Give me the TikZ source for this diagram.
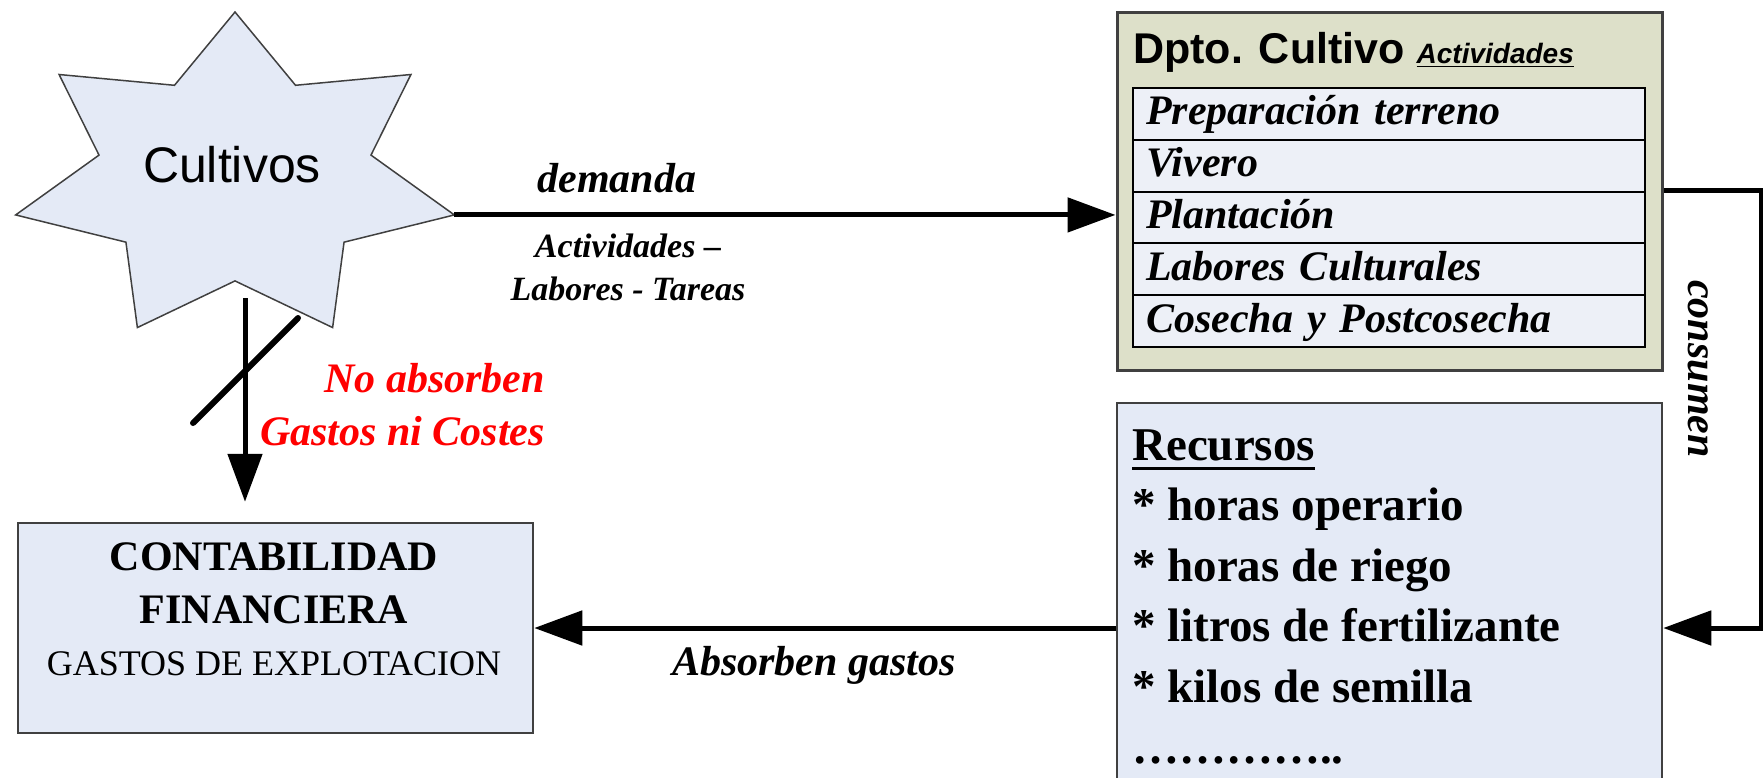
\documentclass[tikz,border=0pt]{standalone}
\usepackage{fontspec}
\setmainfont{Liberation Serif}
\setsansfont{Liberation Sans}
\usetikzlibrary{arrows.meta}

% underline with a rule of given depth and thickness
\newcommand{\underfat}[3]{\setbox0=\hbox{#3}\leavevmode\rlap{\rule[-#1]{\wd0}{#2}}\box0}

\begin{document}
\begin{tikzpicture}[x=1pt,y=-1pt,
  box/.style={draw=EdgeGray, line width=2.5pt, rectangle, inner sep=0pt},
  actrow/.style={draw=black, line width=2pt, fill=RowBlue, rectangle,
    minimum width=512pt, minimum height=51.8pt, text width=486pt, align=left,
    inner xsep=13pt, inner ysep=0pt, text height=31pt, text depth=9pt,
    font=\fontsize{42}{50}\selectfont\bfseries\itshape},
  arr/.style={line width=5pt, -{Triangle[length=48pt,width=34pt]}},
  lbl/.style={inner sep=0pt, font=\fontsize{42}{50}\selectfont\bfseries\itshape},
  sublbl/.style={inner sep=0pt, font=\fontsize{34}{40}\selectfont\bfseries\itshape},
  redlbl/.style={lbl, text=NoRed},
  rectxt/.style={inner sep=0pt, anchor=base west, font=\fontsize{47}{56}\selectfont\bfseries},
  contabf/.style={inner sep=0pt, anchor=base, font=\fontsize{42}{50}\selectfont\bfseries},
  starshape/.style={draw=EdgeGray, line width=1.5pt, fill=BoxBlue, line join=miter},
  slash/.style={line width=6pt, line cap=round}]
\definecolor{BoxBlue}{HTML}{E4EAF6}
\definecolor{RowBlue}{HTML}{EDF0F7}
\definecolor{DptoOlive}{HTML}{DDE0C9}
\definecolor{EdgeGray}{HTML}{404040}
\definecolor{NoRed}{HTML}{FF0000}

\clip (0,0) rectangle (1763,777);

% Cultivos star
\begin{scope}[shift={(235,178)}, xscale=225, yscale=166]
\draw[starshape] (270:1) foreach \k in {1,...,13} { -- ({270+\k*360/14}:{ifthenelse(isodd(\k),0.62,1)}) } -- cycle;
\coordinate (startip) at (12.857:1);
\end{scope}
\node[font=\sffamily\fontsize{50}{60}\selectfont] (cultivos) at (232,165) {Cultivos};

% Dpto. Cultivo
\node[box, line width=3pt, fill=DptoOlive, minimum width=545pt, minimum height=358pt] (dpto) at (1389.5,191) {};
\node[anchor=base west, inner sep=0pt] (dptotit) at (1133,63)
  {\sffamily\bfseries\fontsize{43}{50}\selectfont Dpto. Cultivo \fontsize{28}{34}\selectfont\itshape\underfat{4pt}{1.5pt}{Actividades}};
\foreach \txt [count=\i] in {Preparación terreno, Vivero, Plantación, Labores Culturales, Cosecha y Postcosecha}
  \node[actrow] (act\i) at (1389, {88+51.8*(\i-0.5)}) {\txt};

% Recursos
\node[box, fill=BoxBlue, minimum width=545pt, minimum height=450pt] (recursos) at (1389.5,628) {};
\foreach \txt [count=\i from 0] in {\underfat{9.5pt}{3pt}{Recursos}, * horas operario, * horas de riego,
    * litros de fertilizante, * kilos de semilla, …………..}
  \node[rectxt] (rec\i) at (1132, {460+60.6*\i}) {\txt};

% Contabilidad
\node[box, fill=BoxBlue, minimum width=515pt, minimum height=210pt] (conta) at (275.5,628) {};
\node[contabf] (contit) at (274,570) {CONTABILIDAD};
\node[contabf] (finan) at (274,623) {FINANCIERA};
\node[inner sep=0pt, anchor=base, font=\fontsize{36}{42}\selectfont] (gastos) at (274,675) {GASTOS DE EXPLOTACION};

% connectors
\draw[arr] (startip) -- (startip -| dpto.west);
\node[lbl, anchor=base] (demlbl) at (617,192) {demanda};
\node[sublbl, anchor=base] (actlbl) at (628,257) {Actividades \textendash};
\node[sublbl, anchor=base] (labtar) at (628,300) {Labores - Tareas};

\draw[arr] (act3.north -| dpto.east) -- ++(98,0) |- (recursos.east);
\node[lbl, rotate=-90] (conslbl) at (1698,369) {consumen};

\draw[arr] (recursos.west) -- (conta.east);
\node[lbl, anchor=base] (abslbl) at (814,675) {Absorben gastos};

\coordinate (noabs) at (245,298);
\draw[arr, shorten >=20pt] (noabs) -- (noabs |- conta.north);
\draw[slash] (298,318) -- (193,423);
\node[redlbl, anchor=base east] (nolbl) at (545,392) {No absorben};
\node[redlbl, anchor=base east] (gaslbl) at (545,445) {Gastos ni Costes};
\end{tikzpicture}
\end{document}
